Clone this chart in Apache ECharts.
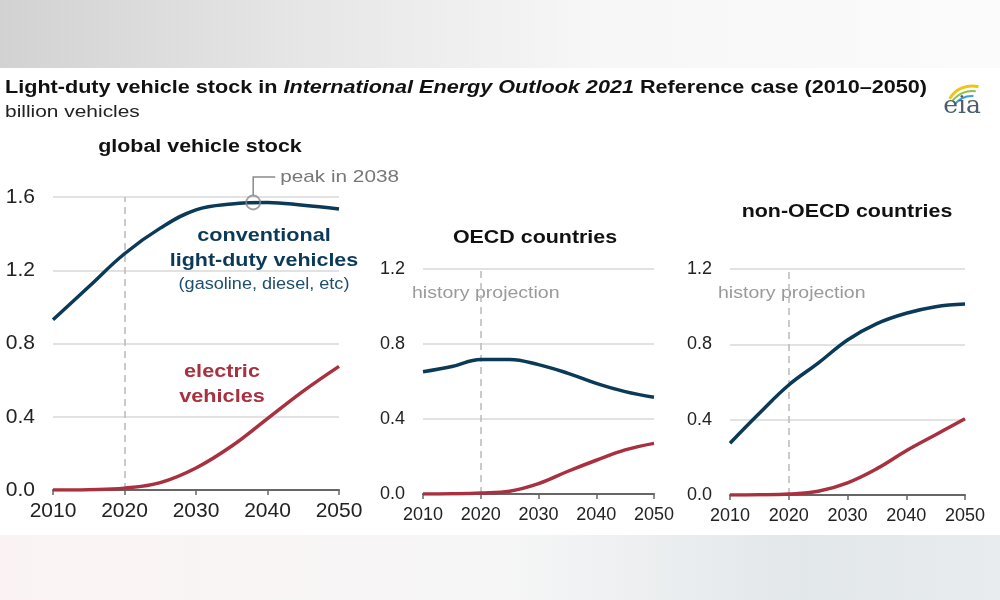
<!DOCTYPE html>
<html><head><meta charset="utf-8">
<script src="https://cdn.jsdelivr.net/npm/echarts@6/dist/echarts.min.js"></script>
<style>html,body{margin:0;padding:0;background:#fff}#c{width:1000px;height:600px}</style>
</head><body><div id="c"></div>
<script>
const years = [2010, 2015, 2020, 2025, 2030, 2035, 2040, 2045, 2050];
const globalConv = [0.93, 1.11, 1.29, 1.43, 1.53, 1.562, 1.57, 1.555, 1.535];
const globalEV   = [0.0, 0.002, 0.01, 0.04, 0.12, 0.24, 0.39, 0.54, 0.675];
const oecdConv   = [0.652, 0.68, 0.718, 0.718, 0.69, 0.645, 0.59, 0.546, 0.516];
const oecdEV     = [0.0, 0.001, 0.005, 0.015, 0.055, 0.12, 0.18, 0.235, 0.27];
const nonConv    = [0.275, 0.434, 0.584, 0.70, 0.823, 0.91, 0.965, 1.0, 1.014];
const nonEV      = [0.0, 0.001, 0.005, 0.02, 0.065, 0.14, 0.235, 0.32, 0.405];
const yTicksGlobal = [0, 0.4, 0.8, 1.2, 1.6];
const yTicksRegion = [0, 0.4, 0.8, 1.2];
const peakYear = 2038, peakValue = 1.57;
const historyEnd = 2020;

const NAVY = '#0b3a59', RED = '#a8303f';
const FONT = '"Liberation Sans", Arial, sans-serif';
const SX = 1.19;

function pairs(v){ return years.map((y,i)=>[y, v[i]]); }

const grids = [
  {left:53, width:286, top:197, height:293},
  {left:423, width:231, top:269, height:225},
  {left:730, width:235, top:269, height:226}
];
const maxes = [yTicksGlobal[yTicksGlobal.length-1], yTicksRegion[yTicksRegion.length-1], yTicksRegion[yTicksRegion.length-1]];
const fs = [21, 18, 18];

const xAxes = grids.map((g,i)=>({
  gridIndex:i, type:'value', min:2010, max:2050, interval:10,
  axisLine:{show:true, onZero:false, lineStyle:{color:'#666', width:2}},
  axisTick:{show:true, length:5, lineStyle:{color:'#666', width:1.5}},
  axisLabel:{color:'#222', fontSize:fs[i], fontFamily:FONT, margin:i===0?11:12, formatter:v=>String(v)},
  splitLine:{show:false}
}));
const yAxes = grids.map((g,i)=>({
  gridIndex:i, type:'value', min:0, max:maxes[i], interval:0.4,
  axisLine:{show:false}, axisTick:{show:false},
  axisLabel:{color:'#222', fontSize:fs[i], fontFamily:FONT, margin:18, formatter:v=>v.toFixed(1)},
  splitLine:{show:true, lineStyle:{color:'#d9d9d9', width:1.5}}
}));

function lineSeries(i, data, color, withMark){
  const s = {type:'line', xAxisIndex:i, yAxisIndex:i, data:pairs(data), smooth:0.4,
    symbol:'none', lineStyle:{color:color, width:3.5}, z:3, silent:true};
  if (withMark) s.markLine = {silent:true, symbol:'none', label:{show:false},
    lineStyle:{color:'#bdbdbd', type:[7,5], width:1.6}, data:[{xAxis:historyEnd}], z:1};
  return s;
}

const series = [
  lineSeries(0, globalEV, RED, true), lineSeries(0, globalConv, NAVY, false),
  lineSeries(1, oecdEV, RED, true), lineSeries(1, oecdConv, NAVY, false),
  lineSeries(2, nonEV, RED, true), lineSeries(2, nonConv, NAVY, false),
  {type:'scatter', xAxisIndex:0, yAxisIndex:0, data:[[peakYear, peakValue]], symbol:'circle', symbolSize:14,
   itemStyle:{color:'rgba(0,0,0,0)', borderColor:'#8a8a8a', borderWidth:1.8}, z:5, silent:true}
];

function txt(x, y, s, opt, sx){
  return {type:'text', x:x, y:y, scaleX:(sx===undefined?SX:sx),
    style:Object.assign({text:s, fill:'#222', font:'17px '+FONT, textAlign:'left', textVerticalAlign:'middle'}, opt||{})};
}

const chart = echarts.init(document.getElementById('c'), null, {renderer:'canvas'});
chart.setOption({
  backgroundColor:'#fff', animation:false,
  grid:grids, xAxis:xAxes, yAxis:yAxes, series:series
});

const pk = chart.convertToPixel({xAxisIndex:0, yAxisIndex:0}, [peakYear, peakValue]);
const cornerY = 177;

const graphic = [
  {type:'rect', shape:{x:0,y:0,width:1000,height:68}, style:{fill:new echarts.graphic.LinearGradient(0,0,1,0,[{offset:0,color:'#d2d2d2'},{offset:0.3,color:'#e6e6e6'},{offset:0.6,color:'#f7f7f7'},{offset:1,color:'#fbfbfb'}])}, z:-10},
  {type:'rect', shape:{x:0,y:535,width:1000,height:65}, style:{fill:new echarts.graphic.LinearGradient(0,0,1,0,[{offset:0,color:'#fbf3f3'},{offset:0.5,color:'#f6f6f6'},{offset:0.8,color:'#e2e7ea'},{offset:1,color:'#e8ecee'}])}, z:-10},
  {type:'text', x:5, y:88, scaleX:1.2, style:{text:'{b|Light-duty vehicle stock in }{bi|International Energy Outlook 2021}{b| Reference case (2010–2050)}',
     textVerticalAlign:'middle', rich:{b:{fontWeight:'bold', fontSize:18, fontFamily:FONT, fill:'#111'}, bi:{fontWeight:'bold', fontStyle:'italic', fontSize:18, fontFamily:FONT, fill:'#111'}}}},
  txt(5, 112, 'billion vehicles', {font:'17px '+FONT, fill:'#222'}, 1.23),
  // eia logo
  {type:'arc', shape:{cx:972, cy:112, r:26, startAngle:-Math.PI*0.83, endAngle:-Math.PI*0.42}, style:{stroke:'#f0c419', lineWidth:3, fill:null}},
  {type:'arc', shape:{cx:972, cy:115, r:24, startAngle:-Math.PI*0.8, endAngle:-Math.PI*0.45}, style:{stroke:'#8cc04a', lineWidth:2, fill:null}},
  {type:'arc', shape:{cx:972, cy:118, r:22, startAngle:-Math.PI*0.78, endAngle:-Math.PI*0.48}, style:{stroke:'#3b9fd6', lineWidth:2, fill:null}},
  txt(962, 106, 'eia', {font:'25px "DejaVu Serif", "Liberation Serif", serif', fill:'#4e5d6c', textAlign:'center'}, 1),
  // panel titles
  txt(200, 147, 'global vehicle stock', {font:'bold 18px '+FONT, textAlign:'center', fill:'#111'}),
  txt(535, 238, 'OECD countries', {font:'bold 18px '+FONT, textAlign:'center', fill:'#111'}),
  txt(847, 212, 'non-OECD countries', {font:'bold 18px '+FONT, textAlign:'center', fill:'#111'}),
  // series labels
  txt(264, 236, 'conventional', {font:'bold 19px '+FONT, textAlign:'center', fill:NAVY}, 1.14),
  txt(264, 261, 'light-duty vehicles', {font:'bold 19px '+FONT, textAlign:'center', fill:NAVY}, 1.13),
  txt(264, 285, '(gasoline, diesel, etc)', {font:'16px '+FONT, textAlign:'center', fill:'#1d4e6e'}, 1.13),
  txt(222, 372, 'electric', {font:'bold 19px '+FONT, textAlign:'center', fill:RED}, 1.14),
  txt(222, 397, 'vehicles', {font:'bold 19px '+FONT, textAlign:'center', fill:RED}, 1.14),
  // peak annotation
  {type:'polyline', shape:{points:[[pk[0], pk[1]-7],[pk[0], cornerY],[pk[0]+22, cornerY]]}, style:{stroke:'#8a8a8a', lineWidth:1.5, fill:null}},
  txt(pk[0]+27, cornerY, 'peak in 2038', {font:'17px '+FONT, fill:'#777'}, 1.22),
  // history/projection labels
  txt(412, 294, 'history projection', {font:'16px '+FONT, fill:'#9a9a9a'}, 1.22),
  txt(718, 294, 'history projection', {font:'16px '+FONT, fill:'#9a9a9a'}, 1.22)
];
chart.setOption({graphic:graphic});
</script></body></html>
